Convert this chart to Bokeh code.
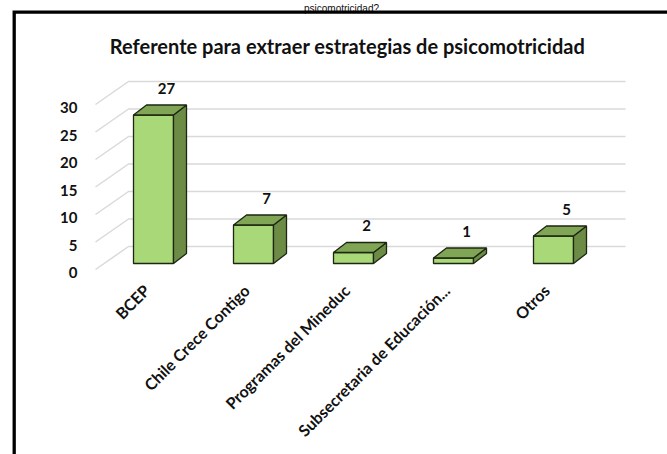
import math
from bokeh.plotting import figure
from bokeh.models import Range1d, ColumnDataSource
from bokeh.embed import file_html
from bokeh.resources import INLINE
from bokeh.core.properties import value

# ---- data ----
categories = ["BCEP", "Chile Crece Contigo", "Programas del Mineduc",
              "Subsecretaria de Educación...", "Otros"]
counts = [27, 7, 2, 1, 5]
y_ticks = [0, 5, 10, 15, 20, 25, 30]
title_text = "Referente para extraer estrategias de psicomotricidad"
heading_text = "psicomotricidad?"

# ---- layout constants (pixels) ----
W, H = 667, 454
OFF = 0
PX_X = 100.0          # pixels per category step
PX_Y = 5.5            # pixels per value unit
X0 = 153 - OFF        # figure x of first category centre
Y0 = 269 - OFF        # figure y (from top) of value 0 on the front axis plane

def dx(px):
    return px / PX_X

def dy(px):
    return px / PX_Y

def fx(px_img):      # image pixel x -> data x
    return (px_img - OFF - X0) / PX_X

def fy(px_img):      # image pixel y (from top) -> data y
    return (Y0 - (px_img - OFF)) / PX_Y

p = figure(width=W, height=H, output_backend="svg", toolbar_location=None,
           x_range=Range1d(fx(OFF), fx(OFF + W)), y_range=Range1d(fy(OFF + H), fy(OFF)),
           x_axis_type=None, y_axis_type=None, min_border=0)
p.grid.visible = False
p.outline_line_color = None
p.background_fill_color = "white"
p.border_fill_color = "white"

FONT = value("Lato")

# ---- gridlines: diagonal side-wall part + back-wall horizontal ----
wall_dx, wall_dy = dx(33), dy(23)
x_front = -dx(58)
x_back = x_front + wall_dx
x_end = dx(625 - 153)
gx, gy = [], []
for t in y_ticks:
    gx.append([x_front, x_back, x_end])
    gy.append([t, t + wall_dy, t + wall_dy])
p.multi_line(gx, gy, line_color="#d9d9d9", line_width=1.5)

# ---- y tick labels ----
p.text(x=[dx(77 - 153)] * len(y_ticks), y=[t - dy(3) for t in y_ticks],
       text=[str(t) for t in y_ticks], text_align="right", text_baseline="middle",
       text_font=FONT, text_font_style="bold", text_font_size="15px",
       text_color="#111111")

# ---- 3D bars ----
half = dx(20)
depth_x, depth_y = dx(13), dy(10)
base = dy(6)
xs = list(range(len(categories)))
front = ColumnDataSource(dict(left=[i - half for i in xs], right=[i + half for i in xs],
                              bottom=[base] * len(xs), top=[c + base for c in counts]))
p.quad(source=front, left="left", right="right", bottom="bottom", top="top",
       fill_color="#a9d879", line_color="#1e2612", line_width=1.3)

top_xs, top_ys, side_xs, side_ys = [], [], [], []
for i, c in zip(xs, counts):
    t = c + base
    top_xs.append([i - half, i + half, i + half + depth_x, i - half + depth_x])
    top_ys.append([t, t, t + depth_y, t + depth_y])
    side_xs.append([i + half, i + half + depth_x, i + half + depth_x, i + half])
    side_ys.append([base, base + depth_y, t + depth_y, t])
p.patches(side_xs, side_ys, fill_color="#6c8c45", line_color="#1e2612", line_width=1.3)
p.patches(top_xs, top_ys, fill_color="#7fa555", line_color="#1e2612", line_width=1.3)

# ---- value labels ----
p.text(x=[i + dx(13) for i in xs], y=[c + base + depth_y + dy(17) for c in counts],
       text=[str(c) for c in counts], text_align="center", text_baseline="middle",
       text_font=FONT, text_font_style="bold", text_font_size="15px",
       text_color="#111111")

# ---- category labels (rotated) ----
p.text(x=[i - dx(7) for i in xs], y=[fy(287)] * len(xs), text=categories,
       angle=math.pi / 4, text_align="right", text_baseline="middle",
       text_font=FONT, text_font_style="bold", text_font_size="16px",
       text_color="#111111")

# ---- chart title ----
p.text(x=[fx(347)], y=[fy(45)], text=[title_text], text_align="center",
       text_baseline="alphabetic", text_font=FONT, text_font_style="bold",
       text_font_size="20px", text_color="#111111")

# ---- heading above the chart box (kept small so it stays fully visible) ----
p.text(x=[fx(341)], y=[fy(7.5)], text=[heading_text], text_align="center",
       text_baseline="alphabetic", text_font=value("Liberation Sans"),
       text_font_size="10px", text_color="#111111")

# ---- chart border (left and top edges of the framed chart area) ----
bx = fx(13.7)
by = fy(11.7)
p.line([bx, bx, fx(W + 20)], [fy(H + 20), by, by], line_color="black",
       line_width=3.3, line_join="miter")

open("out.html", "w").write(file_html(p, INLINE))
